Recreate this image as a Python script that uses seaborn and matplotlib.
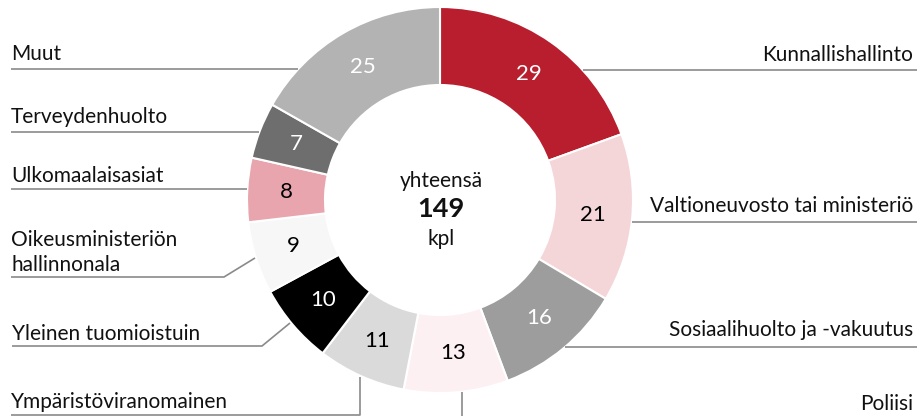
import matplotlib
matplotlib.use("Agg")
import matplotlib.pyplot as plt
import seaborn as sns
import numpy as np

# ---- data ----
categories = ["Kunnallishallinto", "Valtioneuvosto tai ministeriö", "Sosiaalihuolto ja -vakuutus",
              "Poliisi", "Ympäristöviranomainen", "Yleinen tuomioistuin",
              "Oikeusministeriön\nhallinnonala", "Ulkomaalaisasiat", "Terveydenhuolto", "Muut"]
values = [29, 21, 16, 13, 11, 10, 9, 8, 7, 25]
colors = ["#b81e2d", "#f4d6d9", "#9d9d9d", "#fcf0f3", "#dadada",
          "#000000", "#f7f7f7", "#e8a5ae", "#6e6e6e", "#b3b3b3"]
value_text_colors = ["white", "black", "white", "black", "black",
                     "white", "black", "black", "white", "white"]
center_top = "yhteensä"
center_unit = "kpl"

sns.set_theme(style="white")
plt.rcParams["font.family"] = ["Lato", "DejaVu Sans"]

W, H = 921, 416
fig = plt.figure(figsize=(W / 100, H / 100), dpi=100)
ax = fig.add_axes([0, 0, 1, 1])

def Y(y):
    return H - y

cx, cy = 440, 200
R, r = 193, 115

total = sum(values)
wedges, _, autotexts = ax.pie(
    values, colors=colors, startangle=90, counterclock=False,
    center=(cx, Y(cy)), radius=R,
    wedgeprops=dict(width=R - r, edgecolor="white", linewidth=1.5),
    autopct=lambda p: f"{int(round(p * total / 100))}",
    pctdistance=154 / R,
    textprops=dict(fontsize=16),
)
for t, c in zip(autotexts, value_text_colors):
    t.set_color(c)
    t.set_fontsize(16)

# center text
ax.text(cx + 1, Y(181), center_top, ha="center", va="center", fontsize=15, color="#111111")
ax.text(cx + 1, Y(209), f"{total}", ha="center", va="center", fontsize=19.5, fontweight="bold", color="#111111")
ax.text(cx + 1, Y(239), center_unit, ha="center", va="center", fontsize=15, color="#111111")

# ---- leader lines & labels (layout) ----
line_kw = dict(color="#8a8a8a", linewidth=1.2, solid_capstyle="butt")
lab_kw = dict(fontsize=15, color="#111111")

def circ_x(y, side):
    dy = y - cy
    return cx + side * np.sqrt(R ** 2 - dy ** 2)

# left horizontal labels: (index, text baseline y, line y)
left_h = [(9, 60, 69), (8, 123, 132), (7, 182, 189)]
for i, ty, ly in left_h:
    ax.text(11, Y(ty), categories[i], ha="left", va="baseline", **lab_kw)
    ax.plot([11, circ_x(ly, -1)], [Y(ly), Y(ly)], **line_kw)

# Oikeusministeriön hallinnonala (two lines, elbow)
ax.text(11, Y(271), categories[6], ha="left", va="baseline", linespacing=1.3, **lab_kw)
ax.plot([11, 224, 255], [Y(277), Y(277), Y(258)], **line_kw)
# Yleinen tuomioistuin
ax.text(12, Y(340), categories[5], ha="left", va="baseline", **lab_kw)
ax.plot([12, 262, 290], [Y(346), Y(346), Y(323)], **line_kw)
# Ympäristöviranomainen
ax.text(11, Y(408), categories[4], ha="left", va="baseline", **lab_kw)
ax.plot([11, 360, 360], [Y(415), Y(415), Y(377)], **line_kw)

# right horizontal labels
right_h = [(0, 61, 70), (1, 212, 222), (2, 336, 347)]
for i, ty, ly in right_h:
    ax.text(913, Y(ty), categories[i], ha="right", va="baseline", **lab_kw)
    ax.plot([circ_x(ly, 1), 917], [Y(ly), Y(ly)], **line_kw)

# Poliisi
ax.text(913, Y(410), categories[3], ha="right", va="baseline", **lab_kw)
ax.plot([462, 462], [Y(392), Y(420)], **line_kw)

ax.set_xlim(0, W)
ax.set_ylim(0, H)
ax.set_aspect("equal")
ax.axis("off")

fig.savefig("out.png", dpi=100)
